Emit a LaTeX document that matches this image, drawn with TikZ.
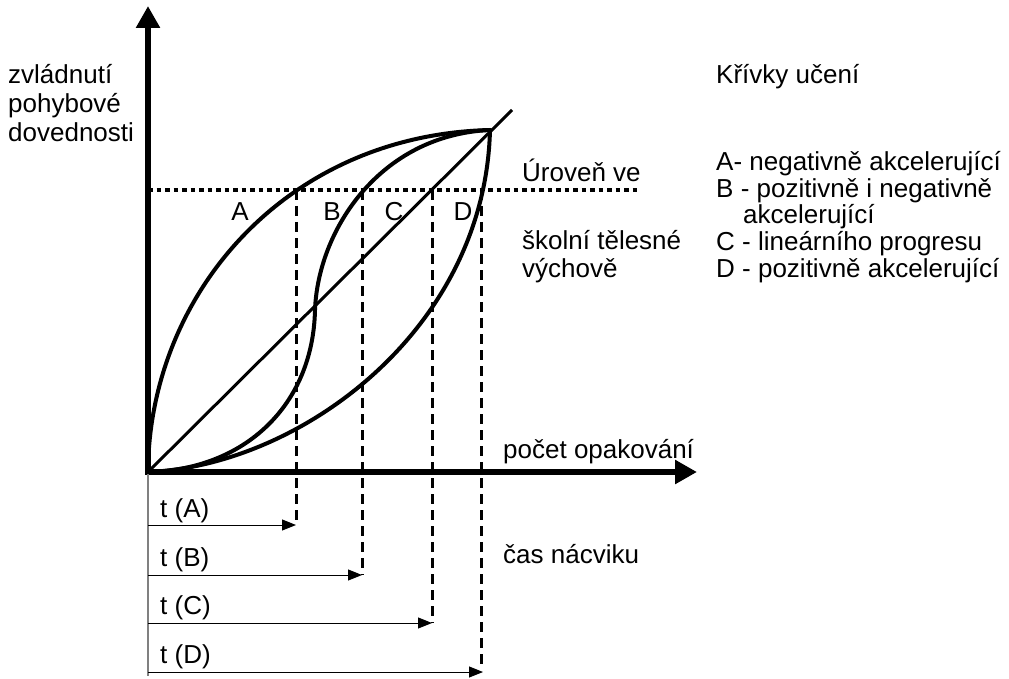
\documentclass[tikz,border=0pt]{standalone}
\usepackage{fontspec}
\setmainfont{Liberation Sans}
\usetikzlibrary{arrows.meta}
\begin{document}
\begin{tikzpicture}[x=1pt,y=-1pt,
  axis/.style={line width=5.5pt,{Triangle[length=22pt,width=23pt]}-{Triangle[length=22pt,width=23pt]}},
  curve/.style={line width=4pt,line cap=round},
  diag/.style={line width=3pt},
  level/.style={line width=3.5pt,dash pattern=on 4.5pt off 4pt},
  drop/.style={line width=3pt,dash pattern=on 10pt off 6pt},
  span/.style={line width=1pt,-{Triangle[length=14pt,width=11pt]}},
  lbl/.style={font=\fontsize{26}{30}\selectfont,inner sep=0pt,anchor=base west},
  mid/.style={font=\fontsize{26}{30}\selectfont,inner sep=0pt,anchor=base}]
\useasboundingbox (0,0) rectangle (1009,679);

% axes
\coordinate (O) at (148,472);
\coordinate (Ytip) at (148,6);
\coordinate (Xtip) at (697,472);
\draw[axis] (Ytip) -- (O) -- (Xtip);
\coordinate (Gbot) at (148,676);
\draw[line width=1.3pt,gray] (O) -- (Gbot);

% common end point of the curves
\coordinate (P) at (490,130);
\coordinate (Cend) at (512,110);
\coordinate (Binf) at (315,310);

% learning curves
\draw[curve] (O) .. controls (149,295) and (285,135) .. (P);              % A
\draw[curve] (O) .. controls (245,470) and (313,405) .. (Binf)
                 .. controls (318,230) and (380,135) .. (P);            % B
\draw[diag] (O) -- (Cend);                                               % C
\draw[curve] (O) .. controls (300,466) and (485,330) .. (P);            % D

% level line
\coordinate (L0) at (148,190);
\coordinate (L1) at (640,190);
\draw[level] (L0) -- (L1);

% drop lines and time spans
\coordinate (a1) at (296,190); \coordinate (a2) at (296,525);
\coordinate (b1) at (362,190); \coordinate (b2) at (362,575);
\coordinate (c1) at (432,190); \coordinate (c2) at (432,623);
\coordinate (d1) at (481,190); \coordinate (d2) at (481,668);
\draw[drop] (a1) -- (a2);
\draw[drop] (b1) -- (b2);
\draw[drop] (c1) -- (c2);
\draw[drop] (d1) -- (d2);
\coordinate (ta) at (148,525);
\coordinate (tb) at (148,575);
\coordinate (tc) at (148,623);
\coordinate (td) at (148,672);
\coordinate (tdE) at (483,672);
\draw[span] (ta) -- (a2);
\draw[span] (tb) -- (b2);
\draw[span] (tc) -- (c2);
\draw[span] (td) -- (tdE);

% labels
\node[lbl] (y1) at (8,84) {zvládnutí};
\node[lbl] (y2) at (8,113) {pohybové};
\node[lbl] (y3) at (8,142) {dovednosti};

\node[mid] (nA) at (240,221) {A};
\node[mid] (nB) at (332,221) {B};
\node[mid] (nC) at (394,221) {C};
\node[mid] (nD) at (463,221) {D};

\node[lbl] (u1) at (522,182) {Úroveň ve};
\node[lbl] (u2) at (522,249) {školní tělesné};
\node[lbl] (u3) at (522,277) {výchově};

\node[lbl] (k0) at (716,84) {Křívky učení};
\node[lbl] (k1) at (716,171) {A- negativně akcelerující};
\node[lbl] (k2) at (716,198) {B - pozitivně i negativně};
\node[lbl] (k3) at (743,224) {akcelerující};
\node[lbl] (k4) at (716,250) {C - lineárního progresu};
\node[lbl] (k5) at (716,277) {D - pozitivně akcelerující};

\node[lbl] (xl) at (503,458) {počet opakování};
\node[lbl] (cn) at (503,563) {čas nácviku};

\node[lbl] (tA) at (160,517) {t (A)};
\node[lbl] (tB) at (160,566) {t (B)};
\node[lbl] (tC) at (160,614) {t (C)};
\node[lbl] (tD) at (160,663) {t (D)};
\end{tikzpicture}
\end{document}
